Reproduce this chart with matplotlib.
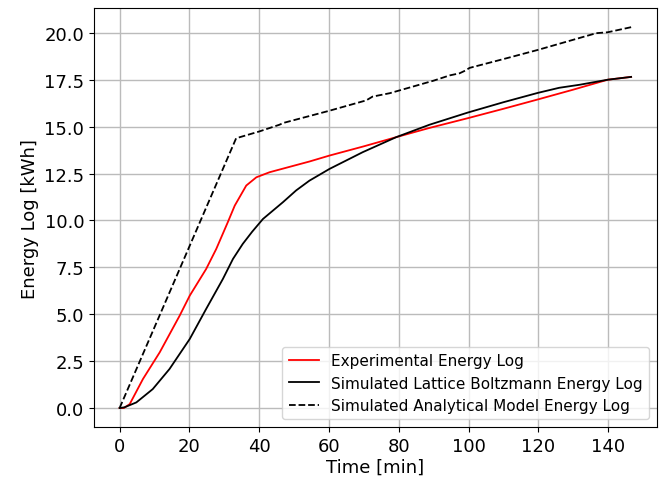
import numpy as np
import matplotlib.pyplot as plt

# experimental energy log
exp_t = [0, 1.2, 2.9, 6.7, 11.5, 17.2, 20.1, 24.8, 27.7, 31.0, 33.0, 36.3, 39.2, 43, 54.4, 60.2, 70, 79.3, 88.8, 99.8, 110, 119.9, 130, 139.9, 146.6]
exp_e = [0, 0.0, 0.21, 1.55, 2.97, 4.92, 5.99, 7.41, 8.48, 9.9, 10.79, 11.86, 12.3, 12.57, 13.14, 13.46, 13.95, 14.44, 14.93, 15.45, 15.95, 16.45, 16.97, 17.5, 17.65]

# lattice boltzmann simulation
lb_t = [0, 1.4, 4.8, 9.5, 14.3, 20.1, 24.8, 29.6, 32.5, 35.3, 38, 41.1, 46.8, 50.6, 54.4, 60.2, 69.7, 79.3, 88.8, 99.8, 110, 119.9, 126, 131.8, 139.9, 146.6]
lb_e = [0, 0.04, 0.3, 1.01, 2.08, 3.68, 5.28, 6.88, 7.95, 8.75, 9.4, 10.08, 10.97, 11.6, 12.12, 12.75, 13.64, 14.44, 15.1, 15.75, 16.3, 16.8, 17.07, 17.23, 17.5, 17.65]

# analytical model
an_t = [0, 33.4, 40, 45.8, 47, 60, 70.7, 72.5, 77.4, 90, 94.6, 97.4, 99.0, 100.3, 110, 119.9, 136.6, 139.9, 146.6]
an_e = [0, 14.38, 14.74, 15.1, 15.2, 15.84, 16.4, 16.6, 16.78, 17.45, 17.73, 17.84, 17.98, 18.13, 18.6, 19.09, 19.98, 20.03, 20.3]

fig = plt.figure(figsize=(6.64, 4.81), dpi=100)
ax = fig.add_axes([0.1416, 0.110, 0.8474, 0.871])

ax.plot(exp_t, exp_e, color='red', lw=1.3, label='Experimental Energy Log')
ax.plot(lb_t, lb_e, color='black', lw=1.3, label='Simulated Lattice Boltzmann Energy Log')
ax.plot(an_t, an_e, color='black', lw=1.3, ls='--', label='Simulated Analytical Model Energy Log')

ax.set_xticks(np.arange(0, 141, 20))
ax.set_yticks(np.arange(0, 20.1, 2.5))
ax.grid(True, color='#bbbbbb', lw=1.0)
ax.tick_params(labelsize=13)
ax.set_xlabel('Time [min]', fontsize=13, labelpad=2)
ax.set_ylabel('Energy Log [kWh]', fontsize=13)
ax.legend(loc='lower right', fontsize=11)

plt.savefig('out.png', dpi=100)
plt.close()
